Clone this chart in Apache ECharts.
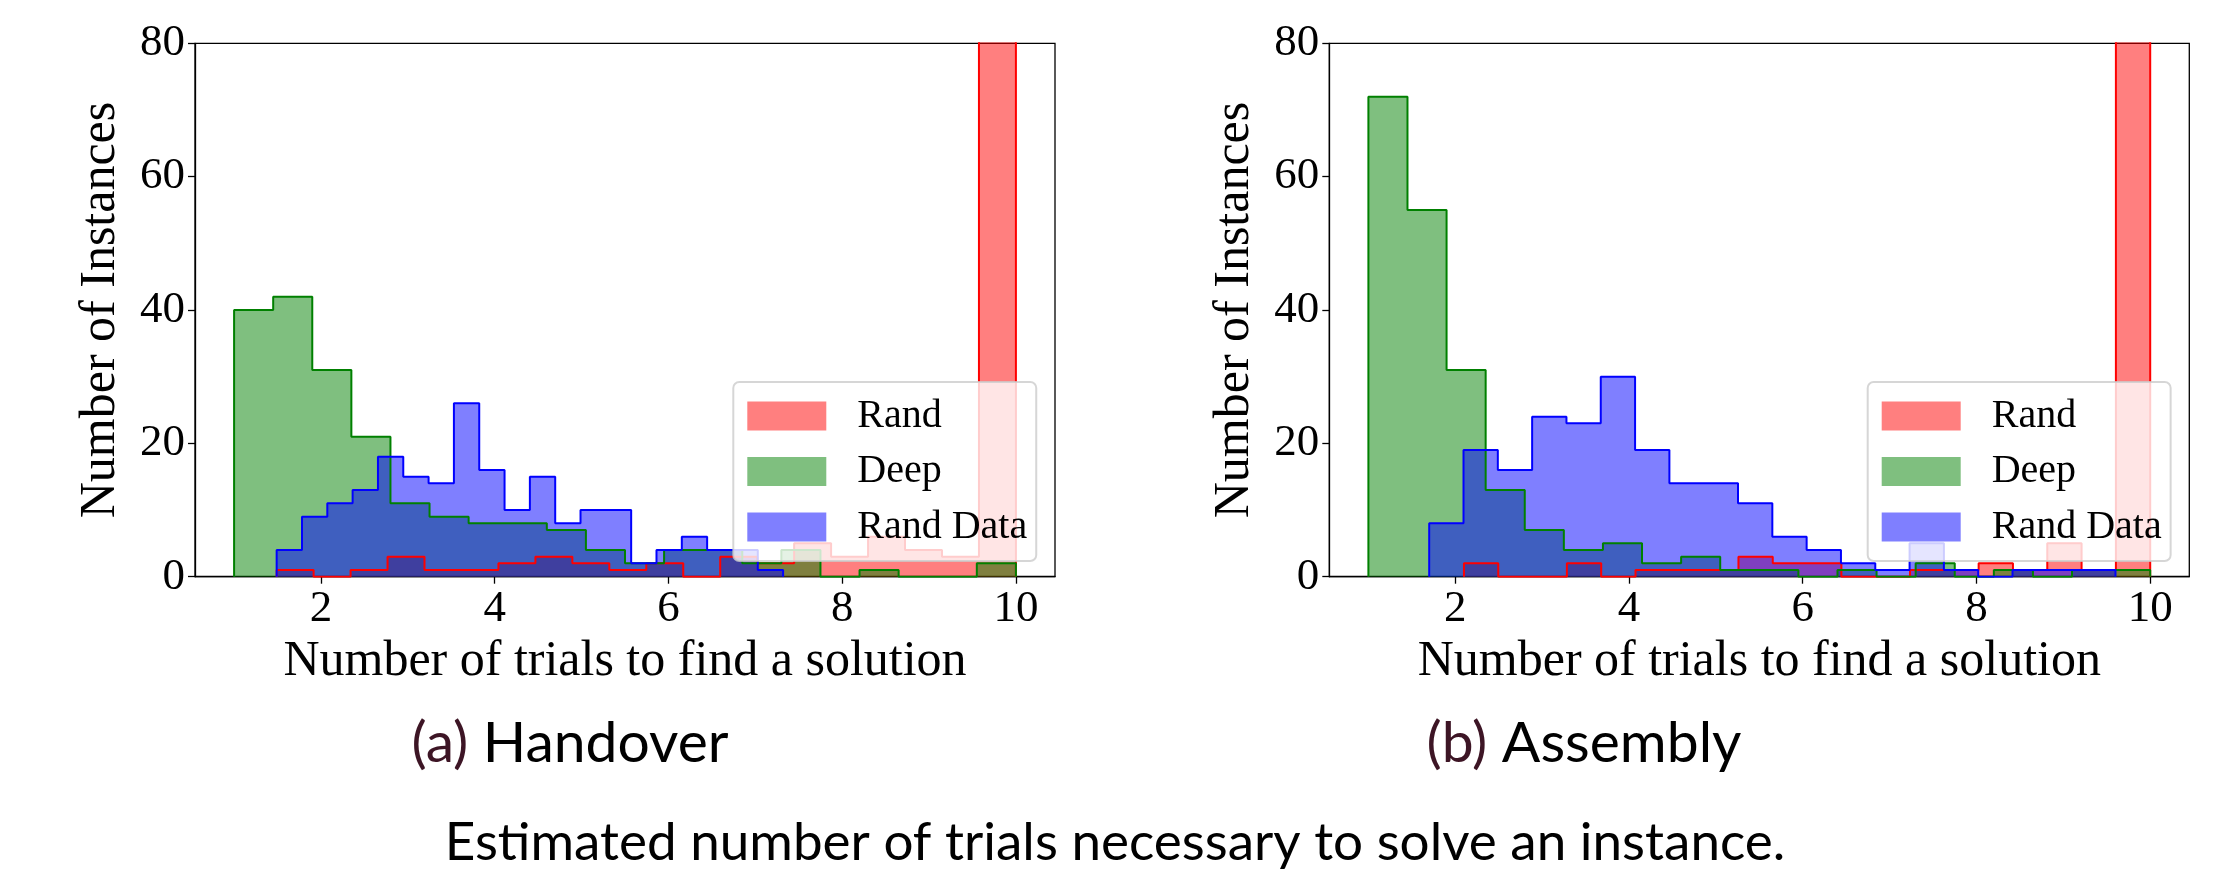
<!DOCTYPE html>
<html>
<head>
<meta charset="utf-8">
<script src="https://cdn.jsdelivr.net/npm/echarts@6/dist/echarts.min.js"></script>
<style>
html, body { margin: 0; padding: 0; background: #fff; }
#chart { width: 2230px; height: 877px; }
</style>
</head>
<body>
<div id="chart"></div>
<script>
var seriesNames = ['Rand', 'Deep', 'Rand Data'];
var xTicks = [2, 4, 6, 8, 10];
var yTicks = [0, 20, 40, 60, 80];

// (a) Handover - each histogram: [min, max] of the data and 20 bin counts
var handoverRandRange = [1.49, 10];
var handoverRand = [1, 0, 1, 3, 1, 1, 2, 3, 2, 1, 2, 0, 3, 2, 5, 3, 6, 4, 3, 157];
var handoverDeepRange = [1, 10];
var handoverDeep = [40, 42, 31, 21, 11, 9, 8, 8, 7, 4, 2, 4, 4, 2, 4, 0, 1, 0, 0, 2];
var handoverRandDataRange = [1.49, 7.32];
var handoverRandData = [4, 9, 11, 13, 18, 15, 14, 26, 16, 10, 15, 8, 10, 10, 2, 4, 6, 4, 4, 1];

// (b) Assembly
var assemblyRandRange = [2.1, 10];
var assemblyRand = [2, 0, 0, 2, 0, 1, 1, 1, 3, 2, 2, 0, 0, 1, 1, 2, 1, 5, 1, 175];
var assemblyDeepRange = [1, 10];
var assemblyDeep = [72, 55, 31, 13, 7, 4, 5, 2, 3, 1, 1, 0, 1, 0, 2, 0, 1, 0, 1, 1];
var assemblyRandDataRange = [1.7, 9.6];
var assemblyRandData = [8, 19, 16, 24, 23, 30, 19, 14, 14, 11, 6, 4, 2, 1, 5, 1, 0, 1, 1, 1];

var serif = '"Liberation Serif", "DejaVu Serif", serif';
var sans = 'Lato, "Noto Sans", sans-serif';
var edgeColors = ['#ff0000', '#008000', '#0000ff'];
var fillColors = ['rgba(255,0,0,0.5)', 'rgba(0,128,0,0.5)', 'rgba(0,0,255,0.5)'];

// outline of a step histogram (like matplotlib histtype='stepfilled')
function stepPoints(range, counts) {
    var w = (range[1] - range[0]) / counts.length;
    var pts = [[range[0], 0]];
    counts.forEach(function (c, i) {
        pts.push([range[0] + i * w, c]);
        pts.push([range[0] + (i + 1) * w, c]);
    });
    pts.push([range[1], 0]);
    return pts;
}

function histSeries(idx, hists) {
    var out = [];
    // fills first, then the edges on top
    hists.forEach(function (h, i) {
        out.push({
            name: seriesNames[i], type: 'line', xAxisIndex: idx, yAxisIndex: idx,
            data: stepPoints(h[0], h[1]), symbol: 'none', color: fillColors[i],
            lineStyle: { opacity: 0 },
            areaStyle: { color: fillColors[i], opacity: 1 },
            silent: true
        });
    });
    hists.forEach(function (h, i) {
        out.push({
            name: seriesNames[i] + ' edge', type: 'line', xAxisIndex: idx, yAxisIndex: idx,
            data: stepPoints(h[0], h[1]), symbol: 'none',
            lineStyle: { color: edgeColors[i], width: 2 },
            silent: true
        });
    });
    return out;
}

function xAxisOpt(i) {
    return {
        gridIndex: i, type: 'value', min: 0.55, max: 10.45,
        name: 'Number of trials to find a solution',
        nameLocation: 'middle', nameGap: 55,
        nameTextStyle: { fontFamily: serif, fontSize: 50, color: '#000' },
        axisLine: { show: true, onZero: false, lineStyle: { color: '#000', width: 1.3 } },
        axisTick: { show: true, length: 7, customValues: xTicks, lineStyle: { color: '#000', width: 1.3 } },
        axisLabel: { customValues: xTicks, margin: 10, fontFamily: serif, fontSize: 45, color: '#000' },
        splitLine: { show: false }
    };
}

function yAxisOpt(i) {
    return {
        gridIndex: i, type: 'value', min: yTicks[0], max: yTicks[yTicks.length - 1], interval: 20,
        name: 'Number of Instances',
        nameLocation: 'middle', nameGap: 69, nameRotate: 90,
        nameTextStyle: { fontFamily: serif, fontSize: 50, color: '#000' },
        axisLine: { show: true, lineStyle: { color: '#000', width: 1.3 } },
        axisTick: { show: true, length: 7, lineStyle: { color: '#000', width: 1.3 } },
        axisLabel: { margin: 10, fontFamily: serif, fontSize: 45, color: '#000' },
        splitLine: { show: false }
    };
}

function legendOpt(left) {
    return {
        left: left, top: 382, orient: 'vertical',
        padding: [14, 9, 14, 14], itemGap: 15.5,
        itemWidth: 79, itemHeight: 29, icon: 'rect',
        backgroundColor: 'rgba(255,255,255,0.8)',
        borderColor: 'rgba(204,204,204,0.8)', borderWidth: 2, borderRadius: 6,
        selectedMode: false,
        textStyle: { fontFamily: serif, fontSize: 40, color: '#000', padding: [0, 0, 0, 26] },
        data: seriesNames.map(function (n, i) {
            return { name: n, itemStyle: { color: fillColors[i], borderWidth: 0 } };
        })
    };
}

var myChart = echarts.init(document.getElementById('chart'));
var option = {
    animation: false,
    backgroundColor: '#fff',
    grid: [
        { left: 195, top: 43.3, width: 860, height: 533.4, show: true, borderColor: '#000', borderWidth: 1.3 },
        { left: 1329.3, top: 43.3, width: 860, height: 533.4, show: true, borderColor: '#000', borderWidth: 1.3 }
    ],
    xAxis: [xAxisOpt(0), xAxisOpt(1)],
    yAxis: [yAxisOpt(0), yAxisOpt(1)],
    legend: [legendOpt(733.3), legendOpt(1867.7)],
    series: histSeries(0, [
        [handoverRandRange, handoverRand],
        [handoverDeepRange, handoverDeep],
        [handoverRandDataRange, handoverRandData]
    ]).concat(histSeries(1, [
        [assemblyRandRange, assemblyRand],
        [assemblyDeepRange, assemblyDeep],
        [assemblyRandDataRange, assemblyRandData]
    ])),
    graphic: [
        {
            type: 'text', x: 570, y: 744,
            style: {
                text: '{l|(a)} Handover', align: 'center', verticalAlign: 'middle',
                fontFamily: sans, fontSize: 57, fill: '#000',
                rich: { l: { fontFamily: sans, fontSize: 57, fill: '#3d1525' } }
            }
        },
        {
            type: 'text', x: 1584, y: 744,
            style: {
                text: '{l|(b)} Assembly', align: 'center', verticalAlign: 'middle',
                fontFamily: sans, fontSize: 57, fill: '#000',
                rich: { l: { fontFamily: sans, fontSize: 57, fill: '#3d1525' } }
            }
        },
        {
            type: 'text', x: 1115, y: 843,
            style: {
                text: 'Estimated number of trials necessary to solve an instance.',
                align: 'center', verticalAlign: 'middle',
                fontFamily: sans, fontSize: 53, fill: '#000'
            }
        }
    ]
};
myChart.setOption(option);
window.addEventListener('resize', function () {
    myChart.resize();
});
</script>
</body>
</html>
